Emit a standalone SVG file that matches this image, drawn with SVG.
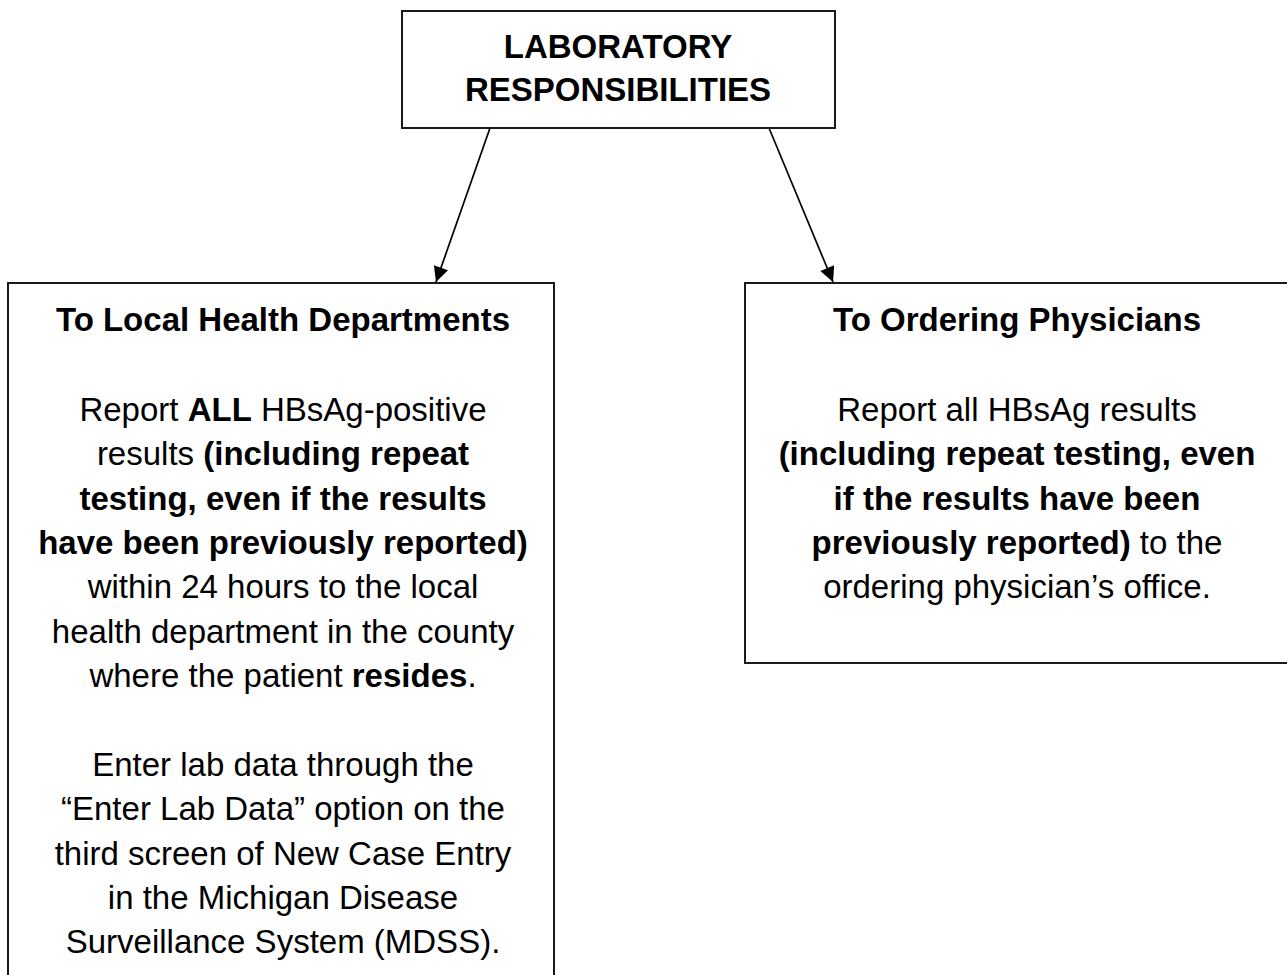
<svg xmlns="http://www.w3.org/2000/svg" width="1287" height="975" viewBox="0 0 1287 975">
<style>
.box{fill:#fff;stroke:#1a1a1a;stroke-width:2}
.t{font-family:"Liberation Sans",Arial,sans-serif;font-size:33px;fill:#000;text-anchor:middle}
.b{font-weight:bold}
.edge{stroke:#000;stroke-width:1.7;fill:none}
</style>
<defs>
<marker id="ah" viewBox="0 0 10 10" refX="10" refY="5" markerWidth="18" markerHeight="15" markerUnits="userSpaceOnUse" orient="auto">
<path d="M0,0 L10,5 L0,10 z" fill="#000"/>
</marker>
</defs>
<rect width="1287" height="975" fill="#fff"/>
<g id="connectors">
<line class="edge" x1="490" y1="128" x2="436" y2="282" marker-end="url(#ah)"/>
<line class="edge" x1="769" y1="128" x2="833" y2="282" marker-end="url(#ah)"/>
</g>
<g id="top">
<rect class="box" x="402" y="11" width="433" height="117"/>
<text class="t b" x="618" y="58">LABORATORY</text>
<text class="t b" x="618" y="101">RESPONSIBILITIES</text>
</g>
<g id="local">
<rect class="box" x="8" y="283" width="546" height="720"/>
<text class="t b" x="283" y="331">To Local Health Departments</text>
<text class="t" x="283" y="421">Report <tspan class="b">ALL</tspan> HBsAg-positive</text>
<text class="t" x="283" y="465">results <tspan class="b">(including repeat</tspan></text>
<text class="t b" x="283" y="510">testing, even if the results</text>
<text class="t b" x="283" y="554">have been previously reported)</text>
<text class="t" x="283" y="598">within 24 hours to the local</text>
<text class="t" x="283" y="643">health department in the county</text>
<text class="t" x="283" y="687">where the patient <tspan class="b">resides</tspan>.</text>
<text class="t" x="283" y="776">Enter lab data through the</text>
<text class="t" x="283" y="820">“Enter Lab Data” option on the</text>
<text class="t" x="283" y="865">third screen of New Case Entry</text>
<text class="t" x="283" y="909">in the Michigan Disease</text>
<text class="t" x="283" y="953">Surveillance System (MDSS).</text>
</g>
<g id="physicians">
<rect class="box" x="745" y="283" width="560" height="380"/>
<text class="t b" x="1017" y="331">To Ordering Physicians</text>
<text class="t" x="1017" y="421">Report all HBsAg results</text>
<text class="t b" x="1017" y="465">(including repeat testing, even</text>
<text class="t b" x="1017" y="510">if the results have been</text>
<text class="t" x="1017" y="554"><tspan class="b">previously reported)</tspan> to the</text>
<text class="t" x="1017" y="598">ordering physician’s office.</text>
</g>
</svg>
